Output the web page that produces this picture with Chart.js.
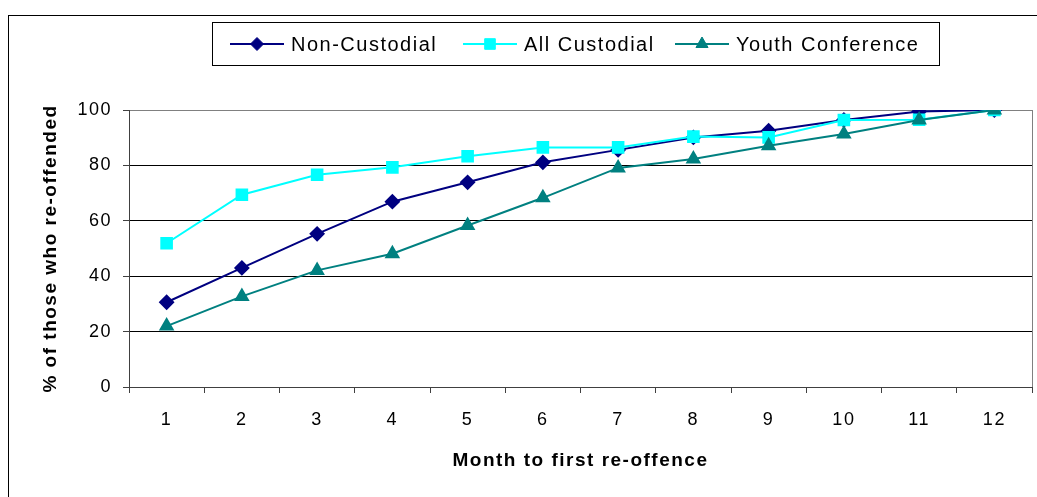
<!DOCTYPE html>
<html>
<head>
<meta charset="utf-8">
<script src="https://cdn.jsdelivr.net/npm/chart.js@4"></script>
<style>
  html, body { margin: 0; padding: 0; background: #fff; }
  canvas { display: block; }
</style>
</head>
<body>
<canvas id="reoffChart" width="1037" height="497"></canvas>
<script>
// values
const months = ['1', '2', '3', '4', '5', '6', '7', '8', '9', '10', '11', '12'];
const nonCustodial = [30.6, 43.0, 55.3, 66.9, 73.9, 81.1, 85.6, 90.1, 92.5, 96.4, 99.5, 100];
const allCustodial = [51.9, 69.4, 76.6, 79.3, 83.3, 86.5, 86.5, 90.4, 90.1, 96.4, 96.5, 100];
const youthConference = [22.0, 32.7, 42.1, 48.1, 58.3, 68.3, 79.1, 82.3, 87.1, 91.3, 96.4, 100];
const seriesNames = ['Non-Custodial', 'All Custodial', 'Youth Conference'];
const yTicks = [0, 20, 40, 60, 80, 100];

const FONT = "'Liberation Sans', Arial, sans-serif";
Chart.defaults.font.family = FONT;
Chart.defaults.color = '#000';

// where each legend entry's line sample starts
const legendX = [230, 463, 675];

const framePlugin = {
    id: 'frame',
    beforeLayout(chart) {
        chart.ctx.letterSpacing = '1.5px';
    },
    beforeDraw(chart) {
        const ctx = chart.ctx;
        ctx.letterSpacing = '1.5px';
        ctx.save();
        ctx.fillStyle = '#fff';
        ctx.fillRect(0, 0, chart.width, chart.height);
        ctx.restore();
    },
    beforeDatasetsDraw(chart) {
        const { ctx, chartArea: a } = chart;
        ctx.save();
        ctx.strokeStyle = '#808080';
        ctx.lineWidth = 1;
        ctx.beginPath();
        ctx.moveTo(Math.round(a.right) + 0.5, a.top);
        ctx.lineTo(Math.round(a.right) + 0.5, a.bottom);
        ctx.stroke();
        ctx.restore();
    },
    afterDraw(chart) {
        const ctx = chart.ctx;
        ctx.save();
        // outer chart frame
        ctx.strokeStyle = '#000';
        ctx.lineWidth = 1;
        ctx.strokeRect(8.5, 15.5, 1100, 600);

        // legend box
        ctx.strokeRect(212.5, 22.5, 727, 43);
        const ly = 44;
        chart.data.datasets.forEach((ds, i) => {
            const x0 = legendX[i];
            ctx.strokeStyle = ds.borderColor;
            ctx.lineWidth = 2;
            ctx.beginPath();
            ctx.moveTo(x0, ly);
            ctx.lineTo(x0 + 54, ly);
            ctx.stroke();
            ctx.fillStyle = ds.pointBackgroundColor;
            ctx.strokeStyle = ds.pointBorderColor;
            ctx.lineWidth = 1;
            Chart.helpers.drawPoint(ctx, {
                pointStyle: ds.pointStyle,
                radius: ds.pointRadius,
                rotation: 0,
                borderWidth: 1
            }, x0 + 27, ly);
            ctx.fillStyle = '#000';
            ctx.font = '20px ' + FONT;
            ctx.letterSpacing = '1.5px';
            ctx.textBaseline = 'middle';
            ctx.textAlign = 'left';
            ctx.fillText(ds.label, x0 + 61, ly + 1);
        });
        ctx.restore();
    }
};

const reoffChart = new Chart(document.getElementById('reoffChart').getContext('2d'), {
    type: 'line',
    data: {
        labels: months,
        datasets: [{
            label: seriesNames[0],
            data: nonCustodial,
            borderColor: '#000080',
            backgroundColor: '#000080',
            pointBackgroundColor: '#000080',
            pointBorderColor: '#000080',
            pointStyle: 'rectRot',
            pointRadius: 6.5,
            borderWidth: 2,
            order: 3
        }, {
            label: seriesNames[1],
            data: allCustodial,
            borderColor: '#00FFFF',
            backgroundColor: '#00FFFF',
            pointBackgroundColor: '#00FFFF',
            pointBorderColor: '#00FFFF',
            pointStyle: 'rect',
            pointRadius: 7.5,
            borderWidth: 2,
            order: 2
        }, {
            label: seriesNames[2],
            data: youthConference,
            borderColor: '#008080',
            backgroundColor: '#008080',
            pointBackgroundColor: '#008080',
            pointBorderColor: '#008080',
            pointStyle: 'triangle',
            pointRadius: 7,
            borderWidth: 2,
            order: 1
        }]
    },
    options: {
        responsive: false,
        animation: false,
        layout: {
            autoPadding: false,
            padding: { left: 0, top: 110, right: 5, bottom: 0 }
        },
        plugins: {
            legend: { display: false },
            tooltip: { enabled: false }
        },
        elements: {
            line: { tension: 0 },
            point: { borderWidth: 1 }
        },
        scales: {
            x: {
                type: 'category',
                offset: true,
                grid: {
                    offset: true,
                    drawOnChartArea: false,
                    drawTicks: true,
                    tickLength: 6,
                    color: '#404040'
                },
                border: { display: true, color: '#404040', width: 1 },
                ticks: {
                    font: { size: 18 },
                    color: '#000',
                    padding: 16,
                    maxRotation: 0,
                    autoSkip: false
                },
                title: {
                    display: true,
                    text: 'Month to first re-offence',
                    font: { size: 19, weight: 'bold' },
                    color: '#000',
                    padding: { top: 0, bottom: 25 }
                },
                afterFit(scale) {
                    scale.height = 110;
                    scale.paddingLeft = 0;
                    scale.paddingRight = 0;
                }
            },
            y: {
                min: 0,
                max: 100,
                afterBuildTicks(scale) {
                    scale.ticks = yTicks.map(v => ({ value: v }));
                },
                grid: {
                    color: c => c.tick.value === 100 ? '#808080' : (c.tick.value === 0 ? '#404040' : '#000'),
                    tickColor: '#404040',
                    tickLength: 6,
                    lineWidth: 1
                },
                border: { display: true, color: '#404040', width: 1 },
                ticks: {
                    font: { size: 18 },
                    color: '#000',
                    padding: 11
                },
                title: {
                    display: true,
                    text: '% of those who re-offended',
                    font: { size: 19, weight: 'bold' },
                    color: '#000',
                    padding: { top: 39, bottom: 0 }
                },
                afterFit(scale) {
                    scale.width = 129;
                    scale.paddingTop = 0;
                    scale.paddingBottom = 0;
                }
            }
        }
    },
    plugins: [framePlugin]
});
</script>
</body>
</html>
